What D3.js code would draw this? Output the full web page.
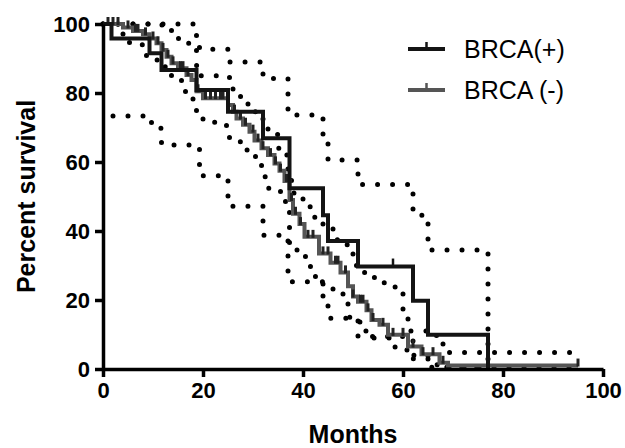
<!DOCTYPE html>
<html>
<head>
<meta charset="utf-8">
<script src="https://cdn.jsdelivr.net/npm/d3@7"></script>
<style>
  body { margin: 0; background: #fff; }
  .axis text { font-family: "Liberation Sans", Arial, sans-serif; font-weight: bold; font-size: 22px; fill: #000; }
  .axis path, .axis line { stroke: #000; stroke-width: 3.5; }
</style>
</head>
<body>
<div class="km-chart"></div>
<script>
// BRCA(+) Kaplan-Meier steps (months, percent surviving after the step)
const posTimes = [0, 1.7, 9.3, 11.7, 18.7, 25, 32, 37.3, 44, 45, 51, 62, 65, 77];
const posSurv = [100, 95.8, 91.5, 86.7, 80.9, 74.6, 66.9, 52.4, 44.6, 37.1, 29.7, 19.8, 9.9, 0];
const posCensored = [58];

// BRCA(-) steps
const negTimes = [0, 4, 6, 8, 9.3, 10.7, 11.7, 12.7, 13.7, 15, 16.7, 17.7, 18.7, 20, 25, 26, 26.7, 28, 29.3, 30.3, 31.7, 33, 34.3, 35.3, 36.3, 37.3, 38, 39.3, 40.3, 43.2, 45.5, 47.5, 49, 50, 51, 52.7, 53.7, 55.3, 57, 61, 63.7, 67.3, 69, 95];
const negSurv = [100, 99, 98, 97, 95.8, 94.4, 92.5, 90.5, 88.6, 87.2, 85.2, 83.8, 80.5, 78.5, 76.5, 74.6, 72.6, 70.8, 68.8, 66.2, 64, 62, 59.6, 57.5, 54.5, 49, 45, 42, 38.3, 33.5, 30.8, 28, 24, 21, 19.5, 17, 14.2, 12.8, 9.9, 6.5, 4.3, 1.8, 1.0, 1.0];
const negCensored = [1, 2, 3, 5, 6.5, 7, 8.5, 10, 11, 12, 13, 14, 15.5, 16, 17, 19, 20.5, 21.5, 22.5, 23.5, 24, 26.3, 27.5, 28.5, 30, 31, 32, 33.5, 34.5, 35.5, 36.7, 37.7, 38.5, 39.5, 41, 42, 44, 45, 46.5, 47, 48.5, 50, 51.5, 52, 53, 54, 56, 58, 60, 62, 64, 66, 68, 95];

// 95% confidence bands (dotted)
const posUpperTimes = [0, 18.7, 19.3, 25, 32, 37, 44, 45, 51, 62, 65, 77];
const posUpperVals = [100, 95.8, 92.7, 89, 84.2, 73.6, 67.3, 60.6, 53.5, 44.6, 34.5, 0];
const posLowerTimes = [2, 9.7, 11.7, 19.3, 25, 32, 37, 44, 45, 51, 62, 65, 77];
const posLowerVals = [73.3, 69.8, 64.9, 56, 47.2, 38.8, 25.3, 20.5, 14.7, 9.4, 4, 0.5, 0];
const negUpperTimes = [0, 9.7, 12, 13.7, 15, 16.3, 17.7, 18.7, 19.3, 25.3, 26, 28, 29, 30, 31, 32, 33, 35, 36, 37, 37.7, 40, 42, 44, 46, 48, 50, 52, 54, 55.5, 57, 60, 61, 66.7, 68, 69, 95];
const negUpperVals = [100, 99.7, 98.3, 96.8, 95.8, 94.4, 93.5, 88, 85, 82, 79, 78, 76.5, 74.6, 73, 71, 68, 64, 62, 57, 51, 47, 44, 41, 37.5, 36, 30, 28, 26.5, 25, 23.8, 15.6, 11, 9, 6.4, 4.8, 4.8];
const negLowerTimes = [0, 4, 5.3, 8.3, 8.7, 11.3, 12, 13.7, 15.7, 16.5, 18, 18.7, 20, 24.7, 25.3, 28, 29.5, 30.5, 32, 33, 35.5, 36.5, 37.3, 40, 41, 42, 44, 46, 48, 49, 50.7, 52, 54, 57.7, 60, 62, 65, 67, 95];
const negLowerVals = [100, 96, 94, 92.5, 89.6, 88.6, 87.6, 85, 82.3, 79.9, 77.5, 72.7, 71.5, 69.3, 65.9, 63.5, 62, 59, 55.7, 52.4, 49, 46.6, 34.5, 32.6, 29.7, 26.8, 24.5, 22.5, 21.4, 15, 13.6, 11, 9, 6.4, 5.5, 3, 1.2, 0.3, 0.3];

const xTicks = [0, 20, 40, 60, 80, 100];
const yTicks = [0, 20, 40, 60, 80, 100];

const width = 625, height = 448;
const margin = { top: 24, right: 22, bottom: 79, left: 103 };

const x = d3.scaleLinear().domain([0, 100]).range([margin.left, width - margin.right]);
const y = d3.scaleLinear().domain([0, 100]).range([height - margin.bottom, margin.top]);

const svg = d3.select(".km-chart").append("svg")
  .attr("width", width)
  .attr("height", height);

const zip = (ts, vs) => ts.map((t, i) => [t, vs[i]]);
const step = d3.line().x(d => x(d[0])).y(d => y(d[1])).curve(d3.curveStepAfter);

// survival at time t (for censor marks)
function survAt(ts, vs, t) {
  let s = vs[0];
  for (let i = 0; i < ts.length; i++) if (ts[i] <= t) s = vs[i];
  return s;
}

// dotted confidence bands
[[posUpperTimes, posUpperVals], [posLowerTimes, posLowerVals],
 [negUpperTimes, negUpperVals], [negLowerTimes, negLowerVals]].forEach(b => {
  svg.append("path")
    .attr("d", step(zip(b[0], b[1])))
    .attr("fill", "none")
    .attr("stroke", "#000")
    .attr("stroke-width", 5)
    .attr("stroke-linecap", "round")
    .attr("stroke-dasharray", "0,15");
});

// BRCA(-) curve
svg.append("path")
  .attr("d", step(zip(negTimes, negSurv)))
  .attr("fill", "none")
  .attr("stroke", "#555")
  .attr("stroke-width", 4);

svg.selectAll(".neg-tick")
  .data(negCensored)
  .enter().append("line")
  .attr("class", "neg-tick")
  .attr("x1", d => x(d)).attr("x2", d => x(d))
  .attr("y1", d => y(survAt(negTimes, negSurv, d)) + 1)
  .attr("y2", d => y(survAt(negTimes, negSurv, d)) - 7)
  .attr("stroke", "#222")
  .attr("stroke-width", 3);

// BRCA(+) curve
svg.append("path")
  .attr("d", step(zip(posTimes, posSurv)))
  .attr("fill", "none")
  .attr("stroke", "#141414")
  .attr("stroke-width", 4);

svg.selectAll(".pos-tick")
  .data(posCensored)
  .enter().append("line")
  .attr("class", "pos-tick")
  .attr("x1", d => x(d)).attr("x2", d => x(d))
  .attr("y1", d => y(survAt(posTimes, posSurv, d)))
  .attr("y2", d => y(survAt(posTimes, posSurv, d)) - 8)
  .attr("stroke", "#141414")
  .attr("stroke-width", 2.5);

// axes
svg.append("g")
  .attr("class", "axis")
  .attr("transform", "translate(0," + y(0) + ")")
  .call(d3.axisBottom(x).tickValues(xTicks).tickSize(8).tickSizeOuter(0).tickPadding(5));

svg.append("g")
  .attr("class", "axis")
  .attr("transform", "translate(" + x(0) + ",0)")
  .call(d3.axisLeft(y).tickValues(yTicks).tickSize(8).tickSizeOuter(0).tickPadding(5));

svg.append("text")
  .attr("x", (x(0) + x(100)) / 2)
  .attr("y", 443)
  .attr("text-anchor", "middle")
  .style("font-family", "Liberation Sans, Arial, sans-serif")
  .style("font-weight", "bold")
  .style("font-size", "25px")
  .text("Months");

svg.append("text")
  .attr("transform", "translate(35," + (y(50)) + ") rotate(-90)")
  .attr("text-anchor", "middle")
  .style("font-family", "Liberation Sans, Arial, sans-serif")
  .style("font-weight", "bold")
  .style("font-size", "25px")
  .text("Percent survival");

// legend
const legend = [
  { name: "BRCA(+)", color: "#141414", yy: 49 },
  { name: "BRCA (-)", color: "#555", yy: 90 }
];
legend.forEach(l => {
  svg.append("line")
    .attr("x1", 408).attr("x2", 445)
    .attr("y1", l.yy).attr("y2", l.yy)
    .attr("stroke", l.color).attr("stroke-width", 4);
  svg.append("line")
    .attr("x1", 426.5).attr("x2", 426.5)
    .attr("y1", l.yy).attr("y2", l.yy - 7)
    .attr("stroke", l.color).attr("stroke-width", 2.5);
  svg.append("text")
    .attr("x", 464)
    .attr("y", l.yy + 9)
    .style("font-family", "Liberation Sans, Arial, sans-serif")
    .style("font-size", "25px")
    .attr("fill", "#000")
    .text(l.name);
});
</script>
</body>
</html>
